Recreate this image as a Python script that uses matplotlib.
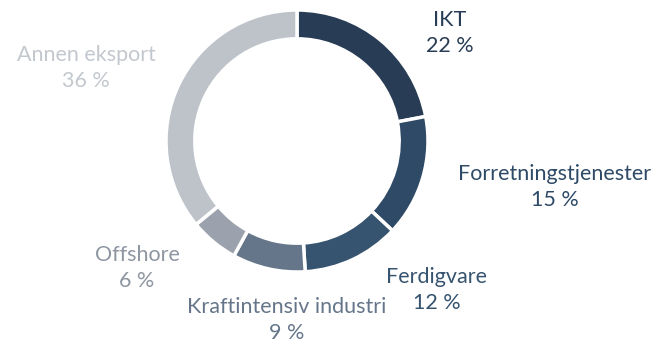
import matplotlib
matplotlib.use('Agg')
import matplotlib.pyplot as plt

# Export shares by sector (percent)
sectors = ['IKT', 'Forretningstjenester', 'Ferdigvare',
           'Kraftintensiv industri', 'Offshore', 'Annen eksport']
shares = [22, 15, 12, 9, 6, 36]
colors = ['#283d55', '#2e4a66', '#36536f', '#66768a', '#9ba2ad', '#bec3ca']
text_colors = ['#283d55', '#2e4a66', '#36536f', '#66768a', '#8e96a2', '#c3c8cf']

# label anchor points (pixels from top-left)
label_pos = [(450, 33), (555, 187), (437, 290), (287, 320), (137, 268), (86, 68)]

W, H = 659, 345
fig = plt.figure(figsize=(W / 100, H / 100), dpi=100)
ax = fig.add_axes([166 / W, 1 - 272 / H, 262 / W, 262 / H])

ax.pie(shares, colors=colors, startangle=90, counterclock=False,
       radius=1.0, wedgeprops=dict(width=0.22, edgecolor='white', linewidth=2.5))
ax.set_xlim(-1, 1)
ax.set_ylim(-1, 1)
ax.set_aspect('equal')
ax.axis('off')

for name, val, c, (px, py) in zip(sectors, shares, text_colors, label_pos):
    fig.text(px / W, 1 - py / H, f'{name}\n{val} %', ha='center', va='center',
             color=c, fontsize=15.5, family='Lato', linespacing=1.32)

fig.savefig('out.png', dpi=100)
